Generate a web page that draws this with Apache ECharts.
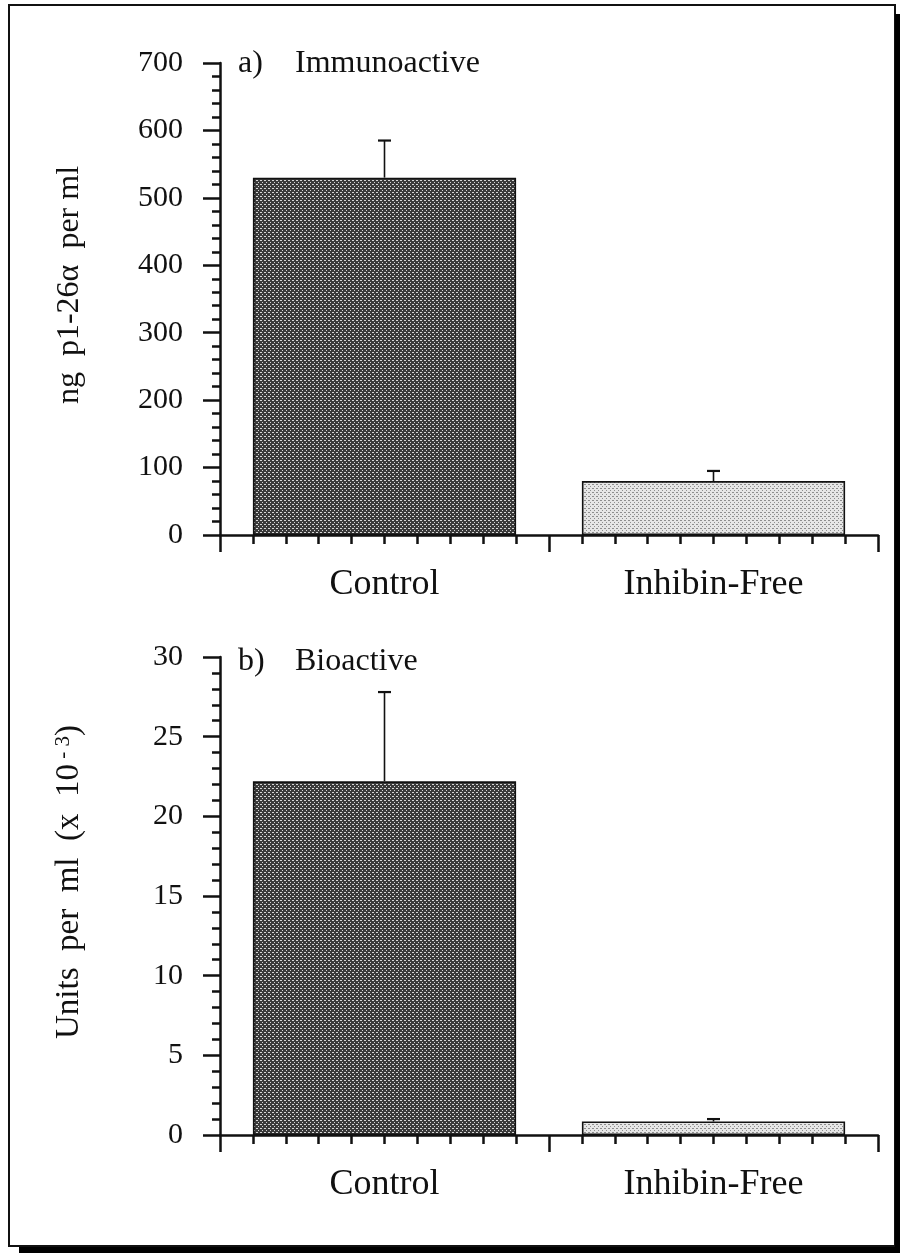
<!DOCTYPE html>
<html>
<head>
<meta charset="utf-8">
<script src="https://cdn.jsdelivr.net/npm/echarts@6/dist/echarts.min.js"></script>
<style>
  html, body { margin: 0; padding: 0; background: #ffffff; }
  #chart { width: 900px; height: 1253px; }
</style>
</head>
<body>
<div id="chart"></div>
<script>
// Inhibin alpha-subunit fragment: immunoactive vs bioactive levels
const categories = ['Control', 'Inhibin-Free'];
const immunoMean = [530, 80];      // ng p1-26α per ml
const immunoErr = [55, 15];
const bioMean = [22.2, 0.85];      // units per ml (x 10^-3)
const bioErr = [5.6, 0.15];
const immunoAxis = { min: 0, max: 700, step: 100, minorSplit: 5 };
const bioAxis = { min: 0, max: 30, step: 5, minorSplit: 5 };

const FONT = '"Liberation Serif", "Times New Roman", serif';
const INK = '#111111';

// Halftone-like fill tiles for the two bar shades
function makeTile(bg, dot, size, dots) {
  const c = document.createElement('canvas');
  c.width = size; c.height = size;
  const g = c.getContext('2d');
  g.fillStyle = bg; g.fillRect(0, 0, size, size);
  g.fillStyle = dot;
  dots.forEach(([x, y, s]) => g.fillRect(x, y, s, s));
  return c;
}
const darkFill = { image: makeTile('#3a3a3a', '#d6d6d6', 4, [[0, 0, 1], [2, 2, 1], [1, 0, 1]]), repeat: 'repeat' };
const lightFill = { image: makeTile('#e6e6e6', '#8e8e8e', 4, [[0, 0, 1], [2, 2, 1], [1, 0, 1]]), repeat: 'repeat' };
const fills = [darkFill, lightFill];

const chart = echarts.init(document.getElementById('chart'), null, { renderer: 'canvas' });

const grids = [
  { left: 220, right: 22, top: 63, height: 472 },
  { left: 220, right: 22, top: 657, height: 478 }
];

function categoryAxis(gridIndex) {
  return {
    type: 'category', gridIndex, position: 'bottom',
    data: categories,
    axisLine: { show: false }, axisTick: { show: false },
    axisLabel: { color: INK, fontFamily: FONT, fontSize: 36, margin: 32 },
    splitLine: { show: false }
  };
}

// Tick ruler under each category band: long ticks at the band edges, short ticks in tenths
function tickAxis(gridIndex) {
  return {
    type: 'value', gridIndex, position: 'bottom',
    min: 0, max: 20, interval: 10,
    axisLine: { show: true, onZero: false, lineStyle: { color: INK, width: 2.5 } },
    axisTick: { show: true, length: 17, lineStyle: { color: INK, width: 2.5 } },
    minorTick: { show: true, splitNumber: 10, length: 9, lineStyle: { color: INK, width: 2.5 } },
    axisLabel: { show: false },
    splitLine: { show: false }, minorSplitLine: { show: false }
  };
}

function valueAxis(gridIndex, spec, name, nameStyle) {
  return {
    type: 'value', gridIndex,
    min: spec.min, max: spec.max, interval: spec.step,
    name, nameLocation: 'middle', nameGap: 134,
    nameTextStyle: nameStyle,
    axisLine: { show: true, onZero: false, lineStyle: { color: INK, width: 2.5 } },
    axisTick: { show: true, length: 17, lineStyle: { color: INK, width: 2.5 } },
    minorTick: { show: true, splitNumber: spec.minorSplit, length: 8, lineStyle: { color: INK, width: 2.5 } },
    axisLabel: { color: INK, fontFamily: FONT, fontSize: 30, margin: 37 },
    splitLine: { show: false }, minorSplitLine: { show: false }
  };
}

function barSeries(xIdx, yIdx, values) {
  return {
    type: 'bar', xAxisIndex: xIdx, yAxisIndex: yIdx,
    barCategoryGap: '20%',
    data: values.map((v, i) => ({
      value: v,
      itemStyle: { color: fills[i], borderColor: INK, borderWidth: 1.6 }
    })),
    silent: true, animation: false
  };
}

function errorSeries(xIdx, yIdx, means, errs) {
  return {
    type: 'custom', xAxisIndex: xIdx, yAxisIndex: yIdx,
    data: means.map((m, i) => [i, m, m + errs[i]]),
    encode: { x: 0, y: [1, 2] },
    renderItem(params, api) {
      const x = api.value(0);
      const lo = api.coord([x, api.value(1)]);
      const hi = api.coord([x, api.value(2)]);
      const half = 6.5;
      return {
        type: 'group',
        children: [
          { type: 'line', shape: { x1: lo[0], y1: lo[1], x2: hi[0], y2: hi[1] },
            style: { stroke: INK, lineWidth: 1.6 } },
          { type: 'line', shape: { x1: hi[0] - half, y1: hi[1], x2: hi[0] + half, y2: hi[1] },
            style: { stroke: INK, lineWidth: 2.2 } }
        ]
      };
    },
    z: 5, silent: true, animation: false
  };
}

const panelTitle = (label, name, top) => ({
  text: '{lab|' + label + '} {nm|' + name + '}',
  left: 233, top,
  textStyle: {
    fontWeight: 'normal',
    rich: {
      lab: { fontFamily: FONT, fontSize: 32, fontWeight: 'normal', color: INK, width: 52 },
      nm: { fontFamily: FONT, fontSize: 32, fontWeight: 'normal', color: INK }
    }
  }
});

chart.setOption({
  animation: false,
  backgroundColor: '#ffffff',
  title: [
    panelTitle('a)', 'Immunoactive', 43),
    panelTitle('b)', 'Bioactive', 641)
  ],
  grid: grids,
  xAxis: [categoryAxis(0), tickAxis(0), categoryAxis(1), tickAxis(1)],
  yAxis: [
    valueAxis(0, immunoAxis, 'ng  p1-26α  per ml', {
      color: INK, fontFamily: FONT, fontSize: 32, padding: [0, 0, 0, 28]
    }),
    valueAxis(1, bioAxis, 'Units  per  ml  (x  10{sup| - 3})', {
      color: INK, fontFamily: FONT, fontSize: 33, padding: [0, 0, 0, 28],
      rich: { sup: { fontFamily: FONT, fontSize: 21, color: INK, verticalAlign: 'top', lineHeight: 33 } }
    })
  ],
  series: [
    barSeries(0, 0, immunoMean),
    errorSeries(0, 0, immunoMean, immunoErr),
    barSeries(2, 1, bioMean),
    errorSeries(2, 1, bioMean, bioErr)
  ],
  graphic: [
    // page frame with a heavy drop shadow on the right and bottom
    { type: 'rect', shape: { x: 9, y: 5, width: 886, height: 1241 },
      style: { fill: 'none', stroke: INK, lineWidth: 2 }, silent: true },
    { type: 'rect', shape: { x: 895, y: 14, width: 5, height: 1239 },
      style: { fill: '#000000' }, silent: true },
    { type: 'rect', shape: { x: 19, y: 1247, width: 881, height: 6 },
      style: { fill: '#000000' }, silent: true }
  ]
});
</script>
</body>
</html>
